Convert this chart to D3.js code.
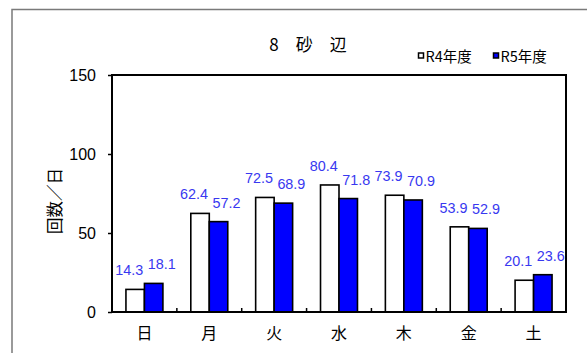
<!DOCTYPE html>
<html><head><meta charset="utf-8">
<script src="https://cdn.jsdelivr.net/npm/d3@7"></script>
<style>body{margin:0;background:#fff}svg{display:block}</style>
</head><body>
<svg id="c" width="587" height="353"></svg>
<script>
const categories = ["日","月","火","水","木","金","土"];
const seriesNames = ["R4年度","R5年度"];
const r4 = [14.3, 62.4, 72.5, 80.4, 73.9, 53.9, 20.1];
const r5 = [18.1, 57.2, 68.9, 71.8, 70.9, 52.9, 23.6];
const yTicks = [0, 50, 100, 150];
const title = "8　砂　辺";
const yTitle = "回数／日";

const svg = d3.select("#c");
const L = 112, R = 566, T = 75, B = 312;
const cjk = "'Noto Sans CJK JP', sans-serif";

// outer frame
svg.append("rect").attr("x",12).attr("y",9.5).attr("width",600).attr("height",400)
  .attr("fill","none").attr("stroke","#7a7a7a").attr("stroke-width",1.5);

const x = d3.scaleBand().domain(categories).range([L,R]).paddingInner(0.43).paddingOuter(0.215);
const y = d3.scaleLinear().domain([0,150]).range([B,T]);

const data = categories.map((c,i)=>({c, vals:[r4[i], r5[i]]}));
const colors = ["#ffffff","#0000ff"];
const bw = x.bandwidth()/2;

const g = svg.append("g");
data.forEach(d=>{
  d.vals.forEach((v,j)=>{
    g.append("rect").attr("x", x(d.c)+j*bw).attr("y", y(v))
      .attr("width", bw).attr("height", y(0)-y(v))
      .attr("fill", colors[j]).attr("stroke","#000").attr("stroke-width",1.6);
  });
});

// labels
data.forEach(d=>{
  d.vals.forEach((v,j)=>{
    const cx = x(d.c)+j*bw+bw/2 + (j===0?-6:8);
    g.append("text").attr("x", cx).attr("y", y(v)-14)
      .attr("text-anchor","middle")
      .attr("font-family","'Liberation Sans', Arial, sans-serif")
      .attr("font-size",14.5).attr("fill","#3838f0")
      .attr("textLength",28).attr("lengthAdjust","spacingAndGlyphs")
      .text(v.toFixed(1));
  });
});

// plot border
svg.append("rect").attr("x",L).attr("y",T).attr("width",R-L).attr("height",B-T)
  .attr("fill","none").attr("stroke","#000").attr("stroke-width",2);

// y axis
const yAxis = d3.axisLeft(y).tickValues(yTicks).tickSize(4).tickPadding(12);
const ya = svg.append("g").attr("transform",`translate(${L},0)`).call(yAxis);
ya.select(".domain").remove();
ya.selectAll("line").attr("stroke","#000").attr("stroke-width",1.5);
ya.selectAll("text").attr("font-family","'Liberation Sans', Arial, sans-serif").attr("font-size",16).attr("fill","#000");

// x axis: category labels, ticks inward at boundaries
const xa = svg.append("g").attr("transform",`translate(0,${B})`)
  .call(d3.axisBottom(x).tickSize(0).tickPadding(16));
xa.select(".domain").remove();
xa.selectAll("text").attr("font-family",cjk).attr("font-size",16).attr("fill","#000");
const step = x.step();
d3.range(1,categories.length).forEach(k=>{
  const bx = x(categories[k]) - step*x.paddingInner()/2;
  svg.append("line").attr("x1",bx).attr("x2",bx).attr("y1",B).attr("y2",B-4)
    .attr("stroke","#000").attr("stroke-width",1.5);
});

// title
svg.append("text").attr("x",308).attr("y",51).attr("text-anchor","middle")
  .attr("font-family",cjk).attr("font-size",17).attr("fill","#000").text(title);

// y title
svg.append("text").attr("transform","translate(61,201) rotate(-90)")
  .attr("text-anchor","middle").attr("font-family",cjk).attr("font-size",16.5)
  .attr("fill","#000").text(yTitle);

// legend
const legX = [418, 493];
seriesNames.forEach((n,i)=>{
  svg.append("rect").attr("x",legX[i]+0.5).attr("y",53).attr("width",5).attr("height",5)
    .attr("fill",colors[i]).attr("stroke","#000").attr("stroke-width",1.5);
  svg.append("text").attr("x",legX[i]+7.5).attr("y",61.5)
    .attr("font-family",cjk).attr("font-size",14.5).attr("fill","#000").text(n);
});
</script>
</body></html>
